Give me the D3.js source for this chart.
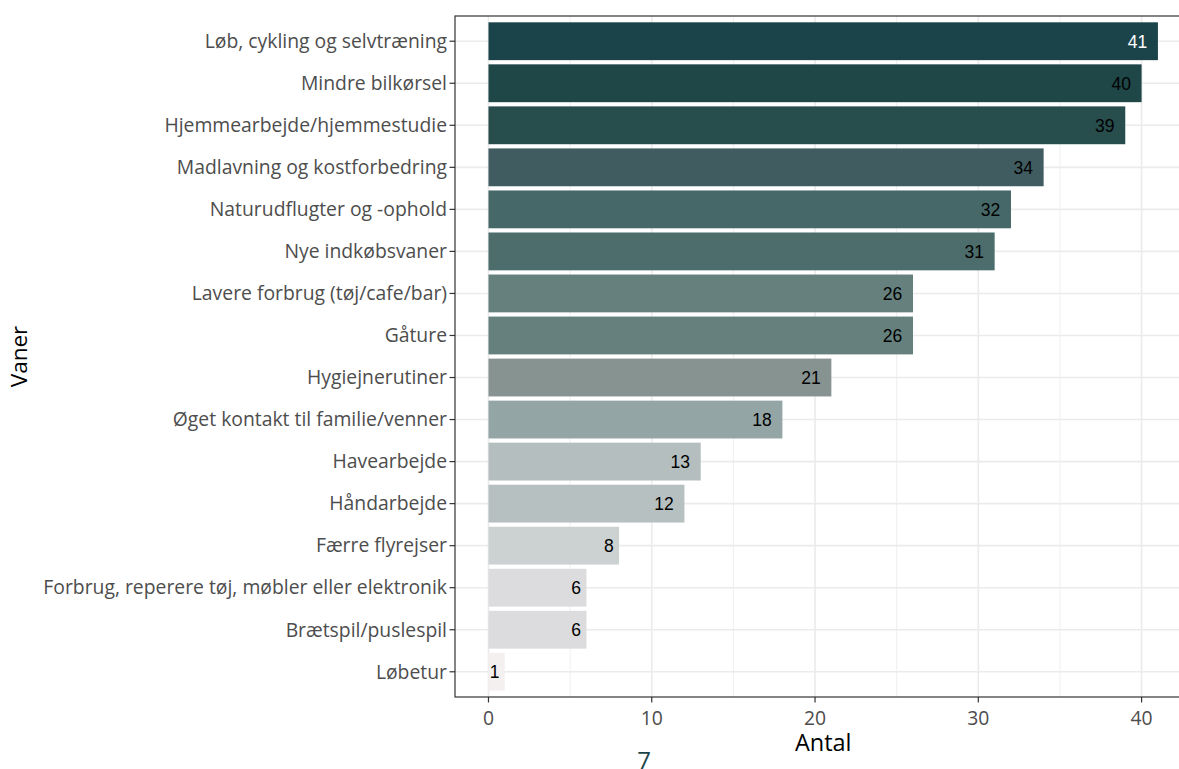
<!DOCTYPE html>
<html><head><meta charset="utf-8">
<script src="https://cdn.jsdelivr.net/npm/d3@7"></script>
<style>body{margin:0;background:#fff}svg{display:block}</style>
</head><body><svg id="c" width="1179" height="769"></svg>
<script>
const categories = ["Løb, cykling og selvtræning","Mindre bilkørsel","Hjemmearbejde/hjemmestudie","Madlavning og kostforbedring","Naturudflugter og -ophold","Nye indkøbsvaner","Lavere forbrug (tøj/cafe/bar)","Gåture","Hygiejnerutiner","Øget kontakt til familie/venner","Havearbejde","Håndarbejde","Færre flyrejser","Forbrug, reperere tøj, møbler eller elektronik","Brætspil/puslespil","Løbetur"];
const values = [41,40,39,34,32,31,26,26,21,18,13,12,8,6,6,1];
const barColors = ["#1b444a","#1f4748","#274d4d","#405c60","#476868","#4c6d6c","#66807e","#66807e","#879391","#94a5a6","#b5bebe","#b7c0c0","#ccd2d1","#dcdcdf","#dcdcdf","#f4f0f0"];
const labelColors = ["#ffffff","#000000","#000000","#000000","#000000","#000000","#000000","#000000","#000000","#000000","#000000","#000000","#000000","#000000","#000000","#000000"];
const xTicks = [0,10,20,30,40];
const xMinor = [5,15,25,35];

const svg = d3.select("#c");
const L = 455, R = 1191.4, T = 16, B = 697;
const x = d3.scaleLinear().domain([-2.05, 43.05]).range([L, R]);
const y = d3.scalePoint().domain(categories).range([T, B]).padding(0.6);
const step = y.step();
const yc = c => y(c);

const tf = "'Open Sans', Lato, sans-serif";
const probe = svg.append("text").attr("font-family",tf).attr("font-size",20).text(categories[13]);
const pw = probe.node().getComputedTextLength(); probe.remove();
const labelSize = 20 * 404 / pw;

const g = svg.append("g");
g.append("rect").attr("x",L).attr("y",T).attr("width",R-L).attr("height",B-T).attr("fill","#fff");
g.selectAll(".mn").data(xMinor).join("line").attr("x1",d=>x(d)).attr("x2",d=>x(d)).attr("y1",T).attr("y2",B).attr("stroke","#ebebeb").attr("stroke-width",0.8);
g.selectAll(".mj").data(xTicks).join("line").attr("x1",d=>x(d)).attr("x2",d=>x(d)).attr("y1",T).attr("y2",B).attr("stroke","#ebebeb").attr("stroke-width",1.6);
g.selectAll(".hy").data(categories).join("line").attr("x1",L).attr("x2",R).attr("y1",d=>yc(d)).attr("y2",d=>yc(d)).attr("stroke","#ebebeb").attr("stroke-width",1.6);

const barH = step*0.9;
g.selectAll(".bar").data(categories).join("rect")
  .attr("x",x(0)).attr("y",d=>yc(d)-barH/2)
  .attr("width",(d,i)=>x(values[i])-x(0)).attr("height",barH)
  .attr("fill",(d,i)=>barColors[i]);

g.selectAll(".vl").data(categories).join("text")
  .attr("y",d=>yc(d)).attr("dy","0.36em")
  .attr("font-family","'Liberation Sans', Arial, sans-serif").attr("font-size",17.5)
  .attr("fill",(d,i)=>labelColors[i]).attr("text-anchor","middle")
  .text((d,i)=>values[i])
  .each(function(d,i){ const w=this.getComputedTextLength(); d3.select(this).attr("x", x(values[i]) - w*1.05); });

g.append("rect").attr("x",L).attr("y",T).attr("width",R-L).attr("height",B-T).attr("fill","none").attr("stroke","#333").attr("stroke-width",1.2);

const ya = g.append("g");
ya.selectAll("line").data(categories).join("line").attr("x1",L-5.5).attr("x2",L).attr("y1",d=>yc(d)).attr("y2",d=>yc(d)).attr("stroke","#333").attr("stroke-width",1.2);
ya.selectAll("text").data(categories).join("text").attr("x",L-8).attr("y",d=>yc(d)).attr("dy","0.35em").attr("text-anchor","end")
  .attr("font-family",tf).attr("font-size",labelSize).attr("fill","#4d4d4d").text(d=>d);
const xa = g.append("g");
xa.selectAll("line").data(xTicks).join("line").attr("x1",d=>x(d)).attr("x2",d=>x(d)).attr("y1",B).attr("y2",B+5.5).attr("stroke","#333").attr("stroke-width",1.2);
xa.selectAll("text").data(xTicks).join("text").attr("x",d=>x(d)).attr("y",B+21).attr("dy","0.35em").attr("text-anchor","middle")
  .attr("font-family",tf).attr("font-size",labelSize).attr("fill","#4d4d4d").text(d=>d);

svg.append("text").attr("x",(L+R)/2).attr("y",751).attr("text-anchor","middle").attr("font-family",tf).attr("font-size",23.5).attr("fill","#000").text("Antal");
svg.append("text").attr("transform",`translate(27,${(T+B)/2}) rotate(-90)`).attr("text-anchor","middle").attr("font-family",tf).attr("font-size",22.5).attr("fill","#000").text("Vaner");
svg.append("text").attr("x",644).attr("y",769).attr("text-anchor","middle").attr("font-family",tf).attr("font-size",24).attr("fill","#1b444a").text("7");
</script></body></html>
